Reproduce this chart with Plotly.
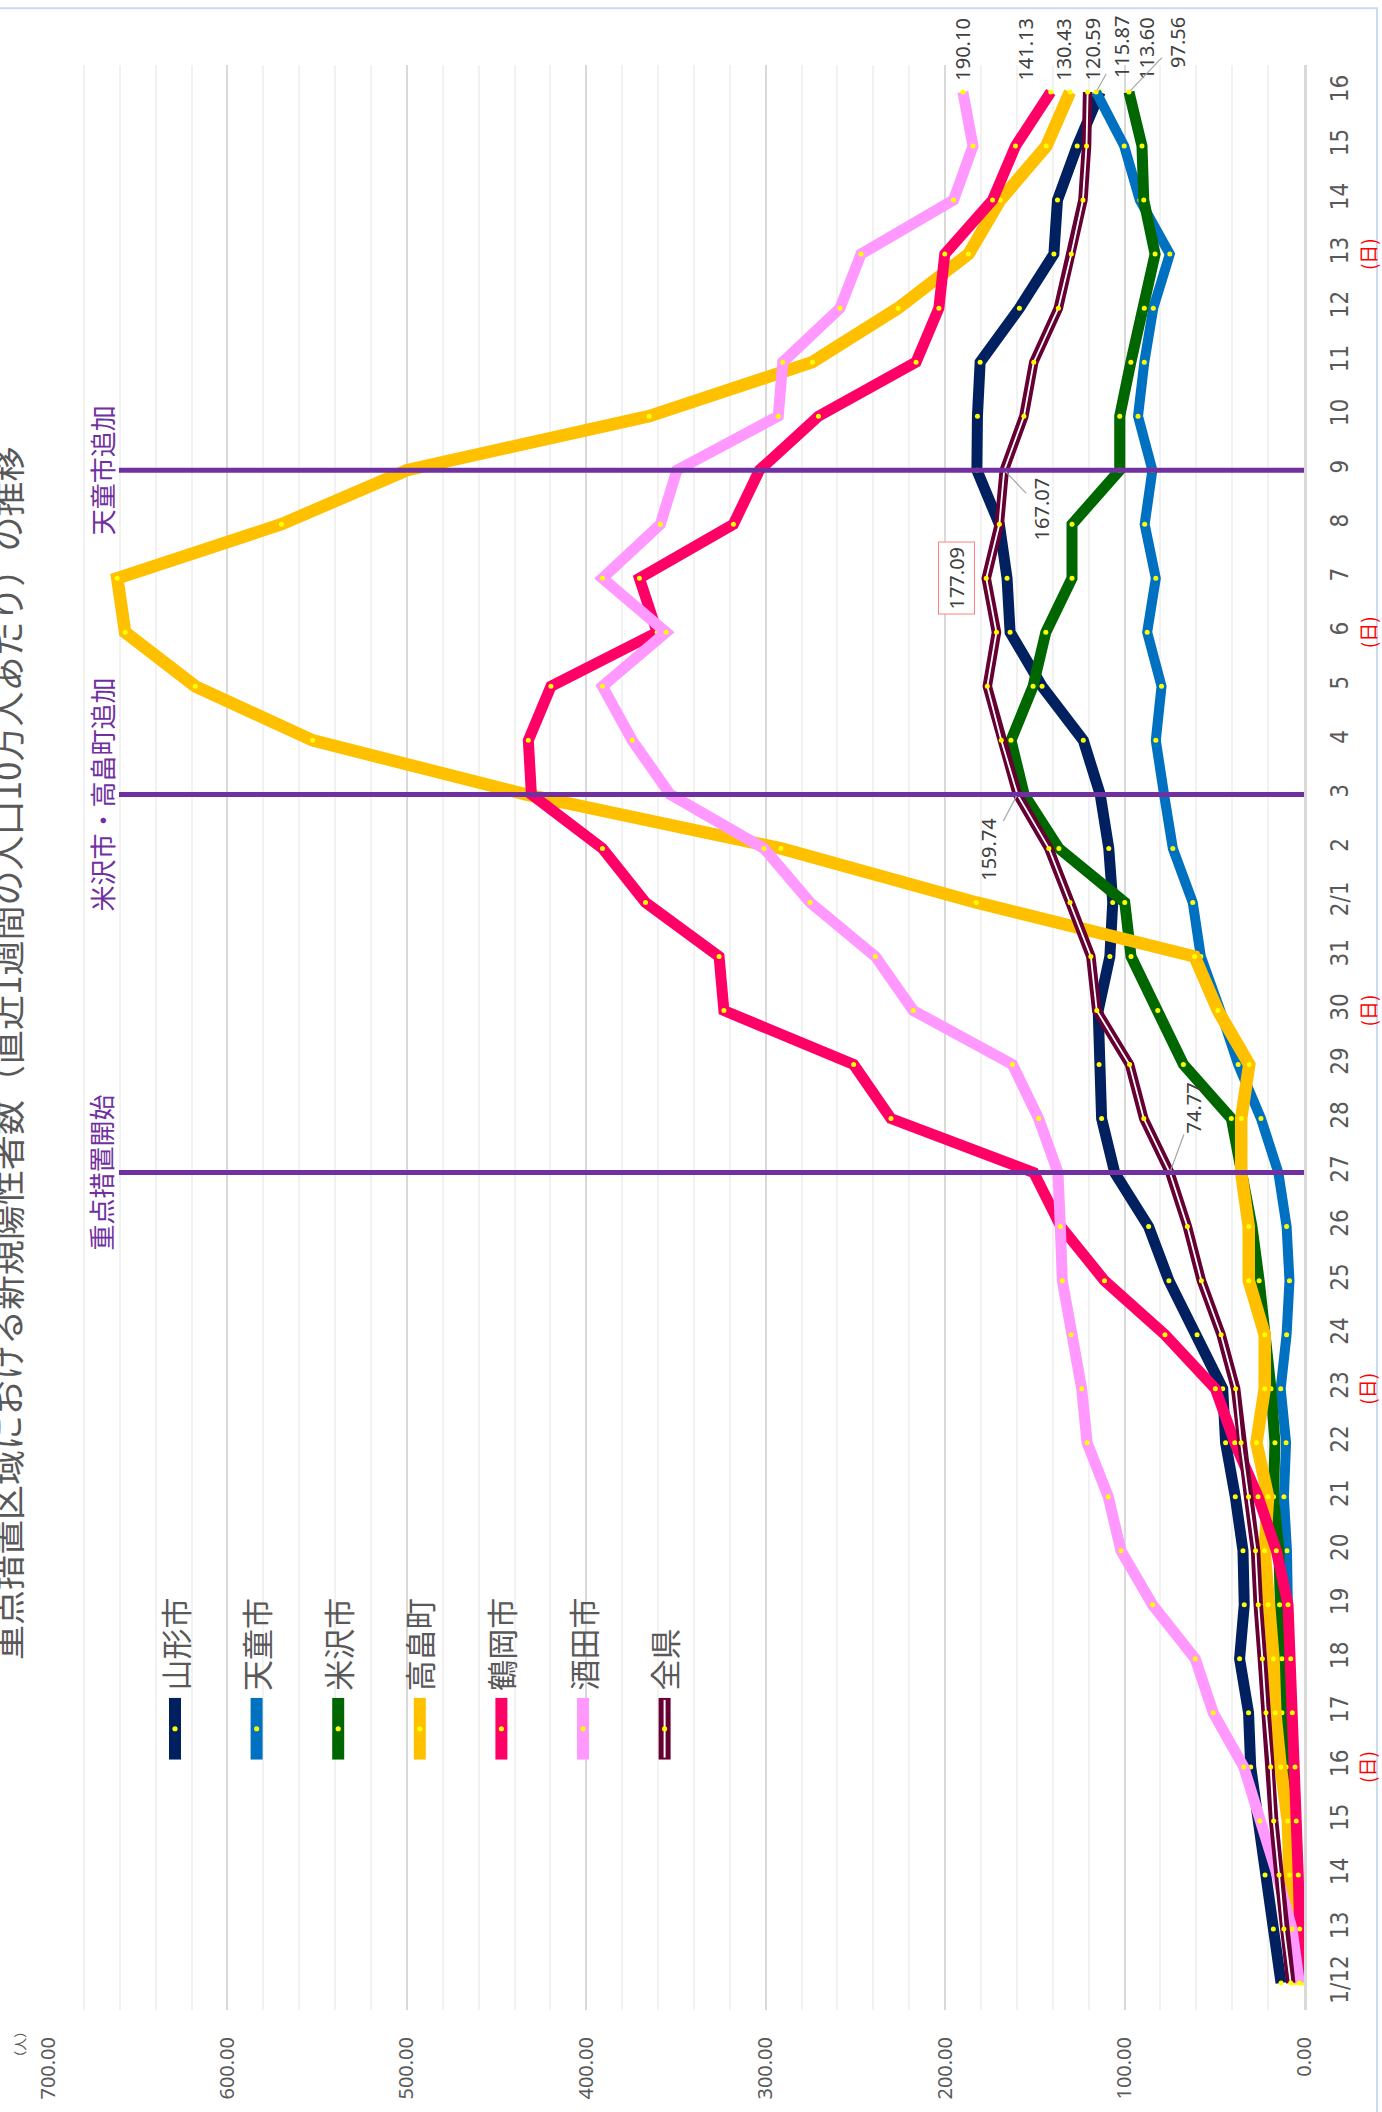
import plotly.graph_objects as go

# ---------------- data ----------------
dates = ["1/12", "13", "14", "15", "16", "17", "18", "19", "20", "21", "22", "23", "24", "25",
         "26", "27", "28", "29", "30", "31", "2/1", "2", "3", "4", "5", "6", "7", "8", "9",
         "10", "11", "12", "13", "14", "15", "16"]

yamagata = [12.8, 17.1, 21.7, 25.3, 29.7, 30.9, 35.9, 33.3, 34.0, 38.3, 43.7, 45.3, 59.6, 75.3,
            86.6, 105.5, 112.8, 114.2, 114.7, 108.2, 106.6, 108.8, 113.6, 123.0, 146.0, 163.8,
            165.5, 169.8, 182.3, 182.0, 180.5, 158.6, 139.4, 137.4, 126.4, 113.60]
tendo = [1.0, 2.0, 3.0, 5.0, 7.0, 8.0, 8.5, 9.0, 9.5, 11.2, 10.0, 13.0, 9.7, 8.1, 9.7, 14.3,
         24.0, 36.7, 46.7, 57.5, 62.0, 73.1, 78.0, 82.6, 79.4, 87.4, 82.6, 88.8, 84.5, 92.5,
         89.0, 84.0, 74.8, 91.5, 100.2, 115.87]
yonezawa = [5.0, 6.7, 8.0, 8.9, 9.9, 12.3, 12.3, 13.6, 14.0, 17.0, 16.2, 18.4, 21.0, 25.0, 29.0,
            34.5, 40.5, 67.2, 81.5, 96.4, 99.9, 136.6, 156.0, 163.3, 151.0, 143.9, 129.3, 129.3,
            102.7, 102.7, 96.5, 89.0, 83.0, 89.3, 90.3, 97.56]
takahata = [0.0, 2.0, 8.0, 9.0, 13.0, 16.0, 17.0, 20.0, 22.0, 20.0, 26.5, 21.9, 21.9, 30.8, 30.8,
            35.0, 35.0, 30.5, 48.0, 61.0, 182.7, 291.5, 433.8, 552.5, 617.9, 657.0, 661.4,
            569.9, 500.0, 365.0, 274.0, 226.2, 187.0, 169.3, 143.6, 130.43]
tsuruoka = [0.0, 2.4, 3.2, 4.3, 5.0, 6.5, 7.4, 8.9, 15.4, 25.6, 38.6, 49.4, 77.5, 111.2, 135.5,
            150.6, 230.2, 251.0, 323.3, 326.0, 367.0, 391.0, 430.6, 432.3, 419.7, 360.5, 370.4,
            318.0, 303.5, 270.6, 216.2, 203.5, 200.2, 173.6, 160.8, 141.13]
sakata = [2.6, 6.7, 15.0, 24.7, 33.6, 50.6, 60.6, 84.4, 102.0, 109.1, 120.9, 123.9, 129.8, 134.7,
          135.8, 137.1, 147.9, 162.5, 217.8, 238.9, 275.3, 301.0, 353.3, 374.4, 391.0, 355.5,
          391.0, 358.7, 349.5, 293.0, 290.5, 258.6, 246.9, 195.3, 184.5, 190.10]
zenken = [7.4, 11.2, 13.9, 16.9, 18.6, 21.2, 23.2, 25.5, 27.0, 30.9, 35.1, 38.1, 46.2, 57.2, 65.0,
          74.77, 89.3, 97.2, 115.5, 118.8, 130.4, 142.2, 159.74, 168.7, 176.5, 171.4, 177.09,
          169.8, 167.07, 156.1, 150.6, 136.9, 129.7, 123.2, 121.2, 120.59]

series_names = ["山形市", "天童市", "米沢市", "高畠町", "鶴岡市", "酒田市", "全県"]
series_values = [yamagata, tendo, yonezawa, takahata, tsuruoka, sakata, zenken]
sunday_idx = [4, 11, 18, 25, 32]
event_idx = [15, 22, 28]
event_labels = ["重点措置開始", "米沢市・高畠町追加", "天童市追加"]
title_text = "重点措置区域における新規陽性者数（直近1週間の人口10万人あたり）の推移"

# ---------------- styles ----------------
colors = ["#002060", "#0070C0", "#006600", "#FFC000", "#FF0066", "#FF99FF", "#660033"]
widths = [11, 10, 11, 12.5, 11, 11, 9.5]
JP = "Noto Sans CJK JP"
NUM = "Noto Sans, Noto Sans CJK JP"
NARROW = "Liberation Sans Narrow, DejaVu Sans Condensed, Noto Sans CJK JP"
GREY = "#595959"

W, H = 1382, 2112
PL, PR, PT, PB = 48, 1304, 65, 2022


def px(xp):
    return (xp - PL) / (PR - PL)


def py(yp):
    return (PB - yp) / (PB - PT)


idx = list(range(len(dates)))
fig = go.Figure()

for name, vals, col, w in zip(series_names, series_values, colors, widths):
    fig.add_trace(go.Scatter(x=vals, y=idx, mode="lines", name=name,
                             line=dict(color=col, width=w), showlegend=False,
                             hoverinfo="skip"))
    if name == "全県":
        fig.add_trace(go.Scatter(x=vals, y=idx, mode="lines", line=dict(color="white", width=1.8),
                                 showlegend=False, hoverinfo="skip"))
    fig.add_trace(go.Scatter(x=vals, y=idx, mode="markers", name=name,
                             marker=dict(color="#FFFF00", size=5), showlegend=False))

shapes = []
annotations = []

# event lines & labels
for ei, el in zip(event_idx, event_labels):
    shapes.append(dict(type="line", xref="paper", yref="y", x0=px(119), x1=1,
                       y0=ei, y1=ei, line=dict(color="#7030A0", width=5), layer="above"))
    annotations.append(dict(xref="paper", yref="y", x=px(101), y=ei, text=el, textangle=-90,
                            xanchor="center", yanchor="middle",
                            showarrow=False, font=dict(family=JP, size=26, color="#7030A0")))

# Sunday markers
for si in sunday_idx:
    annotations.append(dict(xref="paper", yref="y", x=px(1367), y=si, text="(日)", textangle=-90,
                            xanchor="center", yanchor="middle",
                            showarrow=False, font=dict(family=JP, size=19, color="#FF0000")))

# title and unit
annotations.append(dict(xref="paper", yref="paper", x=px(6), y=py(1060), text=title_text,
                        xanchor="center", yanchor="middle",
                        textangle=-90, showarrow=False, font=dict(family=JP, size=35, color=GREY)))
annotations.append(dict(xref="paper", yref="paper", x=px(20), y=py(2057), text="（人）",
                        xanchor="center", yanchor="middle",
                        textangle=-90, showarrow=False, font=dict(family=JP, size=13, color=GREY)))

# legend
for k, (name, col) in enumerate(zip(series_names, colors)):
    gx = 175 + k * 81.6
    shapes.append(dict(type="line", xref="paper", yref="paper", x0=px(gx), x1=px(gx),
                       y0=py(1770), y1=py(1708), line=dict(color=col, width=12)))
    if name == "全県":
        shapes.append(dict(type="line", xref="paper", yref="paper", x0=px(gx), x1=px(gx),
                           y0=py(1768), y1=py(1710), line=dict(color="white", width=2)))
    shapes.append(dict(type="circle", xref="paper", yref="paper", x0=px(gx - 2.6), x1=px(gx + 2.6),
                       y0=py(1741.6), y1=py(1736.4), fillcolor="#FFFF00", line=dict(width=0)))
    annotations.append(dict(xref="paper", yref="paper", x=px(gx - 1), y=py(1703), text=name,
                            textangle=-90, xanchor="center", yanchor="bottom", showarrow=False,
                            font=dict(family=JP, size=31, color=GREY)))

# data labels
LBL = dict(family=NUM, size=20, color="#404040")
last = len(dates) - 1
end_labels = [  # series index, xshift (px), arrow offsets
    (5, 0, None), (4, -25, None), (3, -6, None), (6, 5, None), (0, 47, None),
    (1, None, (25, -45)), (2, None, (48, -50)),
]
for si, xs, arr in end_labels:
    v = series_values[si][last]
    txt = f"{v:.2f}"
    if arr is None:
        annotations.append(dict(xref="x", yref="paper", x=v, y=py(15), xanchor="center",
                                yanchor="top", xshift=xs, text=txt, textangle=-90,
                                showarrow=False, font=LBL))
    else:
        annotations.append(dict(xref="x", yref="y", x=v, y=last, text=txt, textangle=-90,
                                showarrow=True, arrowhead=0, arrowwidth=1.2, arrowcolor="#A6A6A6",
                                ax=arr[0], ay=arr[1], font=LBL, standoff=2))

mid_labels = [(15, (24, -65), False), (22, (-29, 55), False), (28, (37, 39), False),
              (26, None, True)]
for i, arr, boxed in mid_labels:
    v = zenken[i]
    txt = f"{v:.2f}"
    if boxed:
        annotations.append(dict(xref="x", yref="y", x=v, y=i, xshift=-30, text=txt, textangle=-90,
                                xanchor="center", yanchor="middle",
                                showarrow=False, font=LBL, bordercolor="#FF8080", borderwidth=1,
                                borderpad=4, bgcolor="white"))
    else:
        annotations.append(dict(xref="x", yref="y", x=v, y=i, text=txt, textangle=-90,
                                showarrow=True, arrowhead=0, arrowwidth=1.2, arrowcolor="#A6A6A6",
                                ax=arr[0], ay=arr[1], font=LBL, standoff=2))

# chart border
shapes.append(dict(type="rect", xref="paper", yref="paper", x0=-0.2, x1=px(1377),
                   y0=-0.2, y1=py(8), line=dict(color="#C9DCEF", width=2), layer="below"))

fig.update_layout(
    width=W, height=H,
    margin=dict(l=PL, r=W - PR, t=PT, b=H - PB, pad=0),
    paper_bgcolor="white", plot_bgcolor="white",
    showlegend=False,
    shapes=shapes, annotations=annotations,
    xaxis=dict(range=[700, 0], tick0=0, dtick=100, tickformat=".2f",
               showgrid=True, gridcolor="#D9D9D9", gridwidth=2,
               minor=dict(dtick=20, showgrid=True, gridcolor="#F2F2F2", gridwidth=2),
               zeroline=False, showline=False, tickangle=-90, ticklabelstandoff=22,
               tickfont=dict(family=NUM, size=20, color=GREY)),
    yaxis=dict(range=[-0.5, 35.5], tickmode="array", tickvals=idx, ticktext=dates,
               side="right", showgrid=False, zeroline=False,
               showline=True, linecolor="#D9D9D9", linewidth=3,
               tickangle=-90, ticklabelstandoff=12,
               tickfont=dict(family=NARROW, size=24, color=GREY)),
)

fig.write_html("out.html", config={"displayModeBar": False},
               post_script="document.body.style.margin='0px';document.body.style.overflow='hidden';")
